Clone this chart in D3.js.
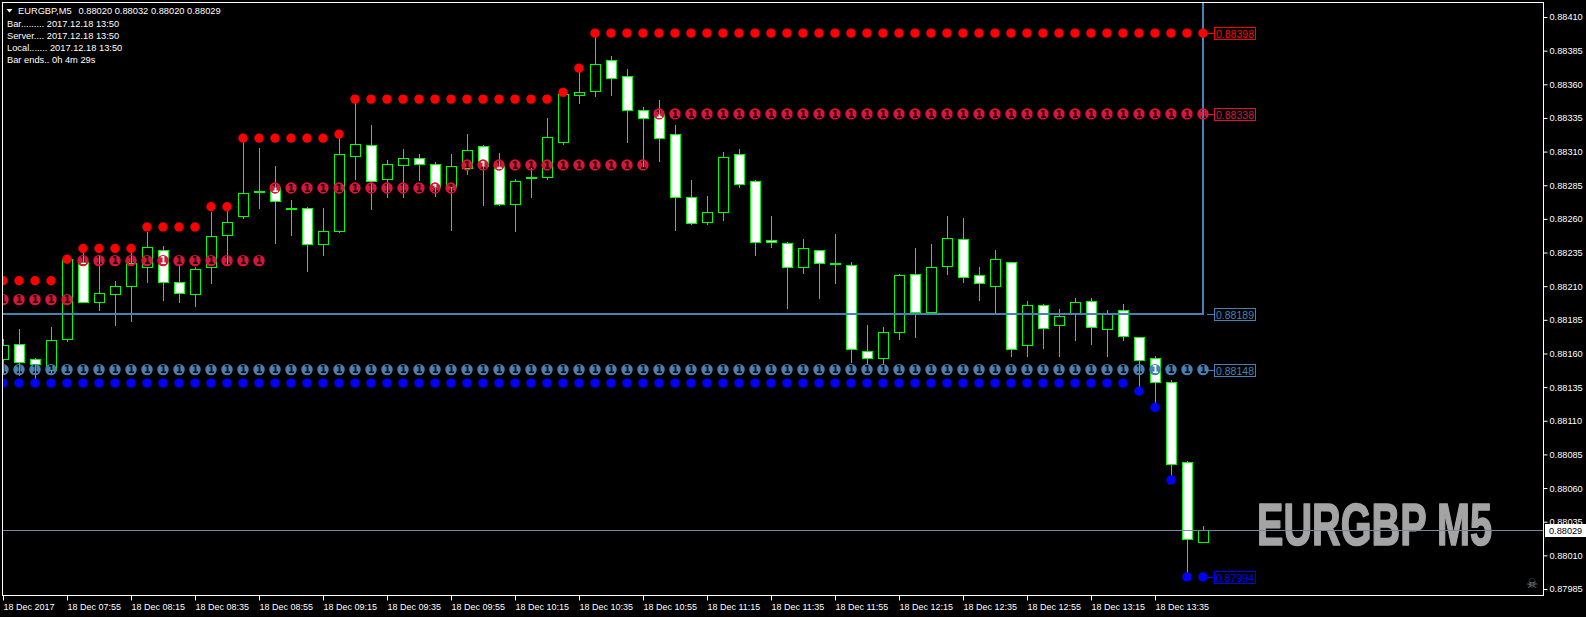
<!DOCTYPE html>
<html><head><meta charset="utf-8">
<script src="https://d3js.org/d3.v7.min.js"></script>
<style>html,body{margin:0;padding:0;background:#000;overflow:hidden}</style>
</head><body>
<svg id="c" width="1586" height="617"></svg>
<script>
// ---------- DATA ----------
const times = ["07:35","07:40","07:45","07:50","07:55","08:00","08:05","08:10","08:15","08:20","08:25","08:30","08:35","08:40","08:45","08:50","08:55",
"09:00","09:05","09:10","09:15","09:20","09:25","09:30","09:35","09:40","09:45","09:50","09:55",
"10:00","10:05","10:10","10:15","10:20","10:25","10:30","10:35","10:40","10:45","10:50","10:55",
"11:00","11:05","11:10","11:15","11:20","11:25","11:30","11:35","11:40","11:45","11:50","11:55",
"12:00","12:05","12:10","12:15","12:20","12:25","12:30","12:35","12:40","12:45","12:50","12:55",
"13:00","13:05","13:10","13:15","13:20","13:25","13:30","13:35","13:40","13:45","13:50"];

const open = [0.88156,0.88167,0.88156,0.88148,0.88171,0.88228,0.88198,0.88204,0.88210,0.88224,
0.88237,0.88213,0.88204,0.88224,0.88248,0.88262,0.88280,0.88284,0.88268,0.88268,
0.88241,0.88251,0.88307,0.88315,0.88290,0.88300,0.88305,0.88301,0.88284,0.88298,
0.88314,0.88299,0.88271,0.88291,0.88291,0.88317,0.88352,0.88355,0.88378,0.88366,
0.88341,0.88338,0.88323,0.88276,0.88258,0.88265,0.88308,0.88288,0.88244,0.88242,
0.88224,0.88237,0.88227,0.88226,0.88162,0.88157,0.88176,0.88219,0.88191,0.88225,
0.88245,0.88218,0.88210,0.88228,0.88166,0.88196,0.88181,0.88189,0.88199,0.88178,
0.88192,0.88172,0.88157,0.88139,0.88079,0.88020];

const high = [0.88171,0.88178,0.88157,0.88180,0.88231,0.88235,0.88233,0.88214,0.88239,0.88250,
0.88240,0.88226,0.88224,0.88265,0.88269,0.88321,0.88313,0.88299,0.88274,0.88269,
0.88268,0.88320,0.88346,0.88330,0.88304,0.88312,0.88308,0.88302,0.88308,0.88323,
0.88315,0.88309,0.88290,0.88298,0.88335,0.88356,0.88369,0.88398,0.88381,0.88371,
0.88343,0.88348,0.88330,0.88289,0.88277,0.88310,0.88312,0.88289,0.88262,0.88243,
0.88245,0.88237,0.88249,0.88228,0.88181,0.88180,0.88219,0.88238,0.88241,0.88262,
0.88261,0.88224,0.88237,0.88228,0.88199,0.88197,0.88193,0.88201,0.88201,0.88192,
0.88197,0.88172,0.88158,0.88140,0.88080,0.88032];

const low = [0.88146,0.88144,0.88141,0.88146,0.88169,0.88198,0.88192,0.88181,0.88184,0.88213,
0.88200,0.88198,0.88195,0.88212,0.88227,0.88261,0.88268,0.88242,0.88248,0.88221,
0.88233,0.88250,0.88290,0.88267,0.88276,0.88276,0.88289,0.88277,0.88252,0.88293,
0.88270,0.88270,0.88251,0.88276,0.88290,0.88316,0.88346,0.88351,0.88352,0.88317,
0.88299,0.88303,0.88252,0.88256,0.88256,0.88259,0.88284,0.88233,0.88239,0.88194,
0.88220,0.88201,0.88212,0.88154,0.88153,0.88153,0.88171,0.88172,0.88190,0.88219,
0.88213,0.88200,0.88190,0.88158,0.88158,0.88164,0.88158,0.88170,0.88167,0.88158,
0.88170,0.88132,0.88120,0.88066,0.87994,0.88020];

const close = [0.88166,0.88154,0.88152,0.88170,0.88230,0.88198,0.88205,0.88210,0.88227,0.88239,
0.88213,0.88205,0.88223,0.88247,0.88258,0.88279,0.88281,0.88273,0.88268,0.88241,
0.88251,0.88308,0.88316,0.88288,0.88301,0.88305,0.88301,0.88284,0.88299,0.88311,
0.88299,0.88271,0.88288,0.88291,0.88321,0.88353,0.88354,0.88375,0.88365,0.88341,
0.88335,0.88320,0.88276,0.88257,0.88265,0.88306,0.88286,0.88243,0.88243,0.88224,
0.88238,0.88227,0.88227,0.88163,0.88157,0.88176,0.88218,0.88191,0.88224,0.88246,
0.88217,0.88212,0.88230,0.88163,0.88196,0.88179,0.88188,0.88198,0.88180,0.88189,
0.88173,0.88155,0.88139,0.88078,0.88022,0.88029];

// upper level (solid red dots)
const resistHigh = [0.88214,0.88214,0.88214,0.88214,0.88230,0.88238,0.88238,0.88238,0.88238,0.88254,
0.88254,0.88254,0.88254,0.88269,0.88269,0.88320,0.88320,0.88320,0.88320,0.88320,
0.88320,0.88323,0.88349,0.88349,0.88349,0.88349,0.88349,0.88349,0.88349,0.88349,
0.88349,0.88349,0.88349,0.88349,0.88349,0.88354,0.88372,0.88398,0.88398,0.88398,
0.88398,0.88398,0.88398,0.88398,0.88398,0.88398,0.88398,0.88398,0.88398,0.88398,
0.88398,0.88398,0.88398,0.88398,0.88398,0.88398,0.88398,0.88398,0.88398,0.88398,
0.88398,0.88398,0.88398,0.88398,0.88398,0.88398,0.88398,0.88398,0.88398,0.88398,
0.88398,0.88398,0.88398,0.88398,0.88398,0.88398];

// upper level "1" (crimson circled one)
const resist1 = [0.88200,0.88200,0.88200,0.88200,0.88200,0.88229,0.88229,0.88229,0.88229,0.88229,
0.88229,0.88229,0.88229,0.88229,0.88229,0.88229,0.88229,0.88283,0.88283,0.88283,
0.88283,0.88283,0.88283,0.88283,0.88283,0.88283,0.88283,0.88283,0.88283,0.88300,
0.88300,0.88300,0.88300,0.88300,0.88300,0.88300,0.88300,0.88300,0.88300,0.88300,
0.88300,0.88338,0.88338,0.88338,0.88338,0.88338,0.88338,0.88338,0.88338,0.88338,
0.88338,0.88338,0.88338,0.88338,0.88338,0.88338,0.88338,0.88338,0.88338,0.88338,
0.88338,0.88338,0.88338,0.88338,0.88338,0.88338,0.88338,0.88338,0.88338,0.88338,
0.88338,0.88338,0.88338,0.88338,0.88338,0.88338];

// lower level "1" (steel blue circled one)
const support1 = [0.88148,0.88148,0.88148,0.88148,0.88148,0.88148,0.88148,0.88148,0.88148,0.88148,
0.88148,0.88148,0.88148,0.88148,0.88148,0.88148,0.88148,0.88148,0.88148,0.88148,
0.88148,0.88148,0.88148,0.88148,0.88148,0.88148,0.88148,0.88148,0.88148,0.88148,
0.88148,0.88148,0.88148,0.88148,0.88148,0.88148,0.88148,0.88148,0.88148,0.88148,
0.88148,0.88148,0.88148,0.88148,0.88148,0.88148,0.88148,0.88148,0.88148,0.88148,
0.88148,0.88148,0.88148,0.88148,0.88148,0.88148,0.88148,0.88148,0.88148,0.88148,
0.88148,0.88148,0.88148,0.88148,0.88148,0.88148,0.88148,0.88148,0.88148,0.88148,
0.88148,0.88148,0.88148,0.88148,0.88148,0.88148];

// lower level (solid blue dots)
const supportLow = [0.88138,0.88138,0.88138,0.88138,0.88138,0.88138,0.88138,0.88138,0.88138,0.88138,
0.88138,0.88138,0.88138,0.88138,0.88138,0.88138,0.88138,0.88138,0.88138,0.88138,
0.88138,0.88138,0.88138,0.88138,0.88138,0.88138,0.88138,0.88138,0.88138,0.88138,
0.88138,0.88138,0.88138,0.88138,0.88138,0.88138,0.88138,0.88138,0.88138,0.88138,
0.88138,0.88138,0.88138,0.88138,0.88138,0.88138,0.88138,0.88138,0.88138,0.88138,
0.88138,0.88138,0.88138,0.88138,0.88138,0.88138,0.88138,0.88138,0.88138,0.88138,
0.88138,0.88138,0.88138,0.88138,0.88138,0.88138,0.88138,0.88138,0.88138,0.88138,
0.88138,0.88132,0.88120,0.88066,0.87994,0.87994];

const levelLabelValues = [0.88398, 0.88338, 0.88189, 0.88148, 0.87994];
const hLineValue = 0.88189;
const currentPrice = 0.88029;

const yTicks = [0.88410,0.88385,0.88360,0.88335,0.88310,0.88285,0.88260,0.88235,0.88210,
0.88185,0.88160,0.88135,0.88110,0.88085,0.88060,0.88035,0.88010,0.87985];
const xTicks = ["07:35","07:55","08:15","08:35","08:55","09:15","09:35","09:55","10:15","10:35",
"10:55","11:15","11:35","11:55","12:15","12:35","12:55","13:15","13:35"];
const xTickLabels = ["18 Dec 2017","18 Dec 07:55","18 Dec 08:15","18 Dec 08:35","18 Dec 08:55","18 Dec 09:15",
"18 Dec 09:35","18 Dec 09:55","18 Dec 10:15","18 Dec 10:35","18 Dec 10:55","18 Dec 11:15","18 Dec 11:35",
"18 Dec 11:55","18 Dec 12:15","18 Dec 12:35","18 Dec 12:55","18 Dec 13:15","18 Dec 13:35"];

const headerSymbol = "EURGBP,M5";
const headerOHLC = "0.88020 0.88032 0.88020 0.88029";
const infoLines = ["Bar......... 2017.12.18 13:50","Server.... 2017.12.18 13:50","Local....... 2017.12.18 13:50","Bar ends.. 0h 4m 29s"];
const watermark = "EURGBP M5";

// ---------- DRAW ----------
const W = 1586, H = 617;
const FONT = "'Liberation Sans', Arial, sans-serif";
const svg = d3.select('#c');
svg.append('rect').attr('width', W).attr('height', H).attr('fill', '#000');

const x = d3.scalePoint().domain(times).range([3.5, 1203.5]);
const y = d3.scaleLinear().domain([0.87985, 0.88410]).range([589, 17]);
const sy = v => Math.round(y(v)) + 0.5;

const defs = svg.append('defs');
defs.append('clipPath').attr('id', 'plot')
  .append('rect').attr('x', 2).attr('y', 2).attr('width', 1541).attr('height', 594);

const plot = svg.append('g').attr('clip-path', 'url(#plot)');

// watermark
plot.append('text').attr('x', 1257).attr('y', 545)
  .attr('font-family', FONT).attr('font-weight', 'bold').attr('font-size', 59)
  .attr('textLength', 235).attr('lengthAdjust', 'spacingAndGlyphs')
  .attr('fill', '#a4a4a4').attr('stroke', '#a4a4a4').attr('stroke-width', 1.6)
  .attr('stroke-linejoin', 'round').text(watermark);

// candles
const bars = times.map((t, i) => ({t, o: open[i], h: high[i], l: low[i], c: close[i]}));
const cg = plot.append('g');
cg.selectAll('line').data(bars).join('line')
  .attr('x1', d => x(d.t)).attr('x2', d => x(d.t))
  .attr('y1', d => Math.round(y(d.h))).attr('y2', d => Math.round(y(d.l)) + 1)
  .attr('stroke', '#00ff00').attr('stroke-width', 1);
cg.selectAll('rect').data(bars).join('rect')
  .attr('x', d => x(d.t) - 5).attr('width', 10)
  .attr('y', d => Math.min(sy(d.o), sy(d.c)))
  .attr('height', d => Math.max(1, Math.abs(sy(d.o) - sy(d.c))))
  .attr('fill', d => d.c >= d.o ? '#000' : '#fff')
  .attr('stroke', '#00ff00').attr('stroke-width', 1);

// horizontal + vertical steelblue lines
const xLast = x(times[times.length - 1]) - 0.5;
plot.append('line').attr('x1', 2).attr('x2', xLast + 1)
  .attr('y1', Math.round(y(hLineValue))).attr('y2', Math.round(y(hLineValue)))
  .attr('stroke', '#4682b4').attr('stroke-width', 2);
plot.append('line').attr('x1', xLast).attr('x2', xLast)
  .attr('y1', 0).attr('y2', Math.round(y(hLineValue)))
  .attr('stroke', '#4682b4').attr('stroke-width', 2);

// current price line
plot.append('line').attr('x1', 2).attr('x2', 1543)
  .attr('y1', sy(currentPrice)).attr('y2', sy(currentPrice))
  .attr('stroke', '#778899').attr('stroke-width', 1);

// dots: solid
const dotsHi = times.map((t, i) => ({t, v: resistHigh[i]}));
const dotsLo = times.map((t, i) => ({t, v: supportLow[i]}));
const dotsR1 = times.map((t, i) => ({t, v: resist1[i]}));
const dotsS1 = times.map((t, i) => ({t, v: support1[i]}));

plot.append('g').selectAll('circle').data(dotsHi).join('circle')
  .attr('cx', d => x(d.t) - 0.5).attr('cy', d => y(d.v)).attr('r', 4.7).attr('fill', '#ff0000');
plot.append('g').selectAll('circle').data(dotsLo).join('circle')
  .attr('cx', d => x(d.t) - 0.5).attr('cy', d => y(d.v)).attr('r', 4.7).attr('fill', '#0000ff');

// circled "1" dots with the digit knocked out
const mask = defs.append('mask').attr('id', 'onemask').attr('maskUnits', 'userSpaceOnUse')
  .attr('x', 0).attr('y', 0).attr('width', W).attr('height', H);
mask.append('rect').attr('width', W).attr('height', H).attr('fill', '#fff');
mask.selectAll('text').data(dotsR1.concat(dotsS1)).join('text')
  .attr('x', d => x(d.t) - 0.3).attr('y', d => y(d.v) + 3.7)
  .attr('text-anchor', 'middle').attr('font-family', "'DejaVu Sans', sans-serif")
  .attr('font-weight', 'bold').attr('font-size', 10).attr('fill', '#000').text('1');
const og = plot.append('g').attr('mask', 'url(#onemask)');
og.selectAll('circle.r').data(dotsR1).join('circle').attr('class', 'r')
  .attr('cx', d => x(d.t) - 0.5).attr('cy', d => y(d.v)).attr('r', 5.7).attr('fill', '#dc143c');
og.selectAll('circle.s').data(dotsS1).join('circle').attr('class', 's')
  .attr('cx', d => x(d.t) - 0.5).attr('cy', d => y(d.v)).attr('r', 5.7).attr('fill', '#4682b4');

// level labels at the right of the last bar
const labelColors = ['#ff0000', '#dc143c', '#4682b4', '#4682b4', '#0000ff'];
const lg = svg.append('g');
levelLabelValues.forEach((v, i) => {
  const yy = Math.round(y(v));
  lg.append('line').attr('x1', xLast + 4).attr('x2', 1214).attr('y1', yy + 0.5).attr('y2', yy + 0.5)
    .attr('stroke', labelColors[i]);
  lg.append('rect').attr('x', 1214.5).attr('y', yy - 5.5).attr('width', 41).attr('height', 12)
    .attr('fill', '#000').attr('stroke', labelColors[i]);
  lg.append('text').attr('x', 1216).attr('y', yy + 5)
    .attr('font-family', FONT).attr('font-size', 11.5)
    .attr('textLength', 38).attr('lengthAdjust', 'spacingAndGlyphs')
    .attr('fill', labelColors[i]).text(d3.format('.5f')(v));
});

// frame
svg.append('rect').attr('x', 2.5).attr('y', 2.5).attr('width', 1541).attr('height', 593)
  .attr('fill', 'none').attr('stroke', '#fff');

// y axis
const ya = svg.append('g').attr('transform', 'translate(1543.5,0)')
  .call(d3.axisRight(y).tickValues(yTicks).tickFormat(d3.format('.5f')).tickSize(4).tickPadding(2));
ya.select('.domain').remove();
ya.selectAll('line').attr('stroke', '#fff');
ya.selectAll('text').attr('fill', '#fff').attr('font-family', FONT).attr('font-size', 9.2);

// current price box
svg.append('rect').attr('x', 1545).attr('y', Math.round(y(currentPrice)) - 6).attr('width', 41).attr('height', 13).attr('fill', '#fff');
svg.append('text').attr('x', 1549).attr('y', Math.round(y(currentPrice)) + 4)
  .attr('font-family', FONT).attr('font-size', 9.2).attr('fill', '#000').text(d3.format('.5f')(currentPrice));

// x axis
const xa = svg.append('g').attr('transform', 'translate(-0.5,595.5)')
  .call(d3.axisBottom(x).tickValues(xTicks).tickFormat((d, i) => xTickLabels[i]).tickSize(5).tickPadding(3));
xa.select('.domain').remove();
xa.selectAll('line').attr('stroke', '#fff');
xa.selectAll('text').attr('fill', '#fff').attr('font-family', FONT).attr('font-size', 9)
  .attr('text-anchor', 'start').attr('x', 0);

// header info
svg.append('path').attr('d', 'M6.5,9 L12.5,9 L9.5,12.5 Z').attr('fill', '#fff');
svg.append('text').attr('x', 18).attr('y', 14).attr('font-family', FONT).attr('font-size', 9.3).attr('fill', '#fff').text(headerSymbol);
svg.append('text').attr('x', 78.5).attr('y', 14).attr('font-family', FONT).attr('font-size', 9.3).attr('fill', '#fff').text(headerOHLC);
svg.append('g').selectAll('text').data(infoLines).join('text')
  .attr('x', 7).attr('y', (d, i) => 27 + i * 12)
  .attr('font-family', FONT).attr('font-size', 9.3).attr('fill', '#fff').text(d => d);

// skull icon
svg.append('text').attr('x', 1532).attr('y', 588).attr('text-anchor', 'middle')
  .attr('font-family', "'DejaVu Sans', sans-serif").attr('font-size', 13).attr('fill', '#8a8a8a').text('\u2620');
</script>
</body></html>
